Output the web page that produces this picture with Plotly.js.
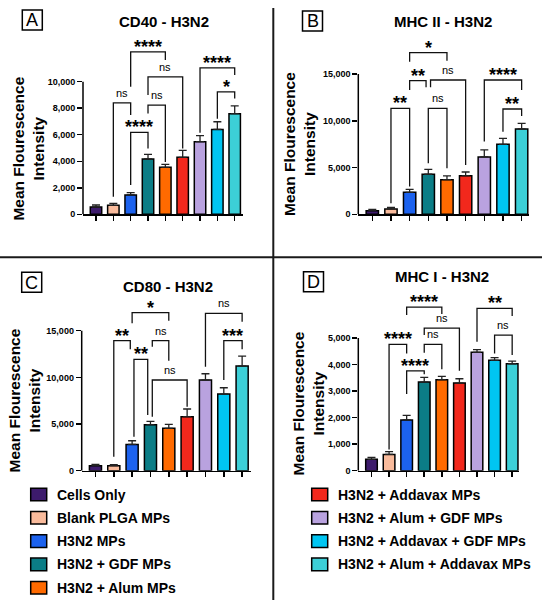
<!DOCTYPE html>
<html><head><meta charset="utf-8">
<script src="https://cdn.plot.ly/plotly-3.0.1.min.js"></script>
<style>html,body{margin:0;padding:0;background:#fff}#chart{width:550px;height:606px}</style>
</head><body><div id="chart"></div>
<script>
// ---------- data ----------
const groups = ['Cells Only','Blank PLGA MPs','H3N2 MPs','H3N2 + GDF MPs','H3N2 + Alum MPs',
  'H3N2 + Addavax MPs','H3N2 + Alum + GDF MPs','H3N2 + Addavax + GDF MPs','H3N2 + Alum + Addavax MPs'];
const groupColors = ['#3d1b6c','#f9bb9c','#1c62ee','#0b7d86','#ff6a00','#f2281c','#b9a2df','#00c5f2','#3ccfd7'];

const cd40Mean = [550, 680, 1460, 4170, 3540, 4300, 5480, 6400, 7590];
const cd40Sem  = [150, 150, 170, 350, 230, 520, 450, 580, 580];
const mhc2Mean = [390, 570, 2350, 4280, 3700, 4130, 6130, 7480, 9120];
const mhc2Sem  = [140, 180, 320, 530, 400, 390, 750, 640, 610];
const cd80Mean = [535, 535, 2820, 4930, 4540, 5790, 9710, 8210, 11210];
const cd80Sem  = [145, 105, 390, 360, 420, 820, 680, 680, 1070];
const mhc1Mean = [427, 615, 1910, 3340, 3430, 3300, 4460, 4160, 4030];
const mhc1Sem  = [75, 100, 175, 175, 125, 165, 100, 100, 100];

const cd40Ticks = [0, 2000, 4000, 6000, 8000, 10000];
const mhc2Ticks = [0, 5000, 10000, 15000];
const cd80Ticks = [0, 5000, 10000, 15000];
const mhc1Ticks = [0, 1000, 2000, 3000, 4000, 5000];

const panelLetters = ['A', 'B', 'C', 'D'];
const panelTitles = ['CD40 - H3N2', 'MHC II - H3N2', 'CD80 - H3N2', 'MHC I - H3N2'];
const yTitle = 'Mean Flourescence<br>Intensity';

// significance brackets: [left group, right group, bracket level, left leg end, right leg end, label]
const cd40Sig = [
  [2, 4, 12250, 9620, 11630, '****'],
  [3, 5, 10370, 8990, 4970, 'ns'],
  [1, 2, 8410, 1330, 7480, 'ns'],
  [3, 4, 8240, 7610, 3950, 'ns'],
  [2, 3, 6180, 2210, 4970, '****'],
  [6, 8, 11050, 6150, 10500, '****'],
  [7, 8, 9240, 7200, 8740, '*']
];
const mhc2Sig = [
  [2, 4, 17280, 16320, 16420, '*'],
  [2, 2.88, 14290, 13290, 13580, '**'],
  [3.12, 5, 14360, 13580, 5270, 'ns'],
  [1, 2, 11330, 1170, 2960, '**'],
  [3, 4, 11330, 5450, 4920, 'ns'],
  [6, 8, 14360, 7770, 13290, '****'],
  [7, 8, 11260, 8830, 10510, '**']
];
const cd80Sig = [
  [2, 4, 16930, 15790, 16070, '*'],
  [1, 1.9, 13930, 1500, 13000, '**'],
  [3.1, 4, 13930, 13290, 11790, 'ns'],
  [2.1, 2.85, 11930, 3640, 5970, '**'],
  [3.1, 5, 9720, 5790, 6860, 'ns'],
  [6, 8, 16860, 11140, 15970, 'ns'],
  [7, 8, 13930, 9720, 13000, '***']
];
const mhc1Sig = [
  [2, 4, 6160, 5870, 5900, '****'],
  [3, 5, 5370, 5110, 3770, 'ns'],
  [1, 2, 4760, 800, 4420, '****'],
  [3, 4, 4760, 4440, 3820, 'ns'],
  [2, 3, 3760, 2890, 3630, '****'],
  [6, 8, 6120, 4860, 5830, '**'],
  [7, 8, 5110, 4420, 4360, 'ns']
];

// ---------- layout geometry ----------
const W = 550, H = 606;
const FONT = 'Liberation Sans, Arial, Helvetica, sans-serif';
const panels = [
  {mean: cd40Mean, sem: cd40Sem, ticks: cd40Ticks, sig: cd40Sig,
   x0: 83, x1: 242.5, xr: [-0.75, 8.45], zero: 214.3, tickPx: 81.7, top: 40,
   title: [164, 22], box: [22.3, 10], ytitle: [28.3, 148.3]},
  {mean: mhc2Mean, sem: mhc2Sem, ticks: mhc2Ticks, sig: mhc2Sig,
   x0: 358.3, x1: 529.1, xr: [-0.75, 8.4], zero: 214.3, tickPx: 74, top: 40,
   title: [443.3, 21.7], box: [302.5, 11], ytitle: [299, 144]},
  {mean: cd80Mean, sem: cd80Sem, ticks: cd80Ticks, sig: cd80Sig,
   x0: 81.7, x1: 251.3, xr: [-0.75, 8.5], zero: 470.7, tickPx: 330.7, top: 298,
   title: [168, 286], box: [21.7, 272.3], ytitle: [24, 400.5]},
  {mean: mhc1Mean, sem: mhc1Sem, ticks: mhc1Ticks, sig: mhc1Sig,
   x0: 358.3, x1: 519.2, xr: [-0.75, 8.4], zero: 470.7, tickPx: 338, top: 298,
   title: [441.7, 276.7], box: [303.5, 271.7], ytitle: [307.5, 404]}
];
const px = v => v / W;
const py = v => 1 - v / H;

const traces = [];
const shapes = [];
const annotations = [];
const layout = {
  width: W, height: H, margin: {l: 0, r: 0, t: 0, b: 0},
  paper_bgcolor: '#fff', plot_bgcolor: 'rgba(0,0,0,0)',
  showlegend: false, font: {family: FONT, color: '#000'}
};

panels.forEach((p, k) => {
  const n = k === 0 ? '' : String(k + 1);
  const xa = 'x' + n, ya = 'y' + n;
  const topTick = p.ticks[p.ticks.length - 1];
  const rmax = topTick * (p.zero - p.top) / (p.zero - p.tickPx);

  traces.push({
    type: 'bar', x: groups, y: p.mean, xaxis: xa, yaxis: ya,
    width: 0.66,
    marker: {color: groupColors, line: {color: '#000', width: 1.5}},
    error_y: {type: 'data', symmetric: false, array: p.sem, arrayminus: p.sem.map(() => 0),
              color: '#222', thickness: 1.3, width: 4},
    hovertemplate: '%{x}: %{y:,}<extra></extra>'
  });

  layout['xaxis' + n] = {
    domain: [px(p.x0), px(p.x1)], anchor: ya, type: 'category', range: p.xr,
    showline: true, linecolor: '#000', linewidth: 1.5,
    ticks: 'outside', ticklen: 5, tickwidth: 1.5, tickcolor: '#000',
    showticklabels: false, showgrid: false, zeroline: false, fixedrange: true
  };
  layout['yaxis' + n] = {
    domain: [py(p.zero), py(p.top)], anchor: xa, range: [0, rmax],
    tickmode: 'array', tickvals: p.ticks, tickformat: ',d',
    ticks: 'outside', ticklen: 5, tickwidth: 1.5, tickcolor: '#000',
    tickfont: {family: FONT, size: 9, color: '#000', weight: 'bold'},
    showline: false, showgrid: false, zeroline: false, fixedrange: true
  };
  // y axis line only up to the top tick
  shapes.push({type: 'line', xref: xa + ' domain', yref: ya, x0: 0, x1: 0, y0: 0, y1: topTick,
               line: {color: '#000', width: 1.5}});

  // significance brackets
  p.sig.forEach(s => {
    const [l, r, lev, yl, yr, lab] = s;
    shapes.push({type: 'path', xref: xa, yref: ya,
      path: `M ${l},${yl} L ${l},${lev} L ${r},${lev} L ${r},${yr}`,
      line: {color: '#111', width: 1.3}});
    const isNs = lab === 'ns';
    annotations.push({xref: xa, yref: ya, x: (l + r) / 2, y: lev, text: lab, showarrow: false,
      xanchor: 'center', yanchor: 'middle', yshift: isNs ? 10 : 5,
      font: {family: FONT, size: isNs ? 11 : 18, color: '#000', weight: isNs ? 'normal' : 'bold'}});
  });

  // panel title
  annotations.push({xref: 'paper', yref: 'paper', x: px(p.title[0]), y: py(p.title[1]),
    text: '<b>' + panelTitles[k] + '</b>', showarrow: false, xanchor: 'center', yanchor: 'middle',
    font: {family: FONT, size: 15, color: '#000'}});
  // panel letter box
  shapes.push({type: 'rect', xref: 'paper', yref: 'paper',
    x0: px(p.box[0]), x1: px(p.box[0] + 20), y0: py(p.box[1] + 20), y1: py(p.box[1]),
    line: {color: '#000', width: 1.5}, fillcolor: '#fff'});
  annotations.push({xref: 'paper', yref: 'paper', x: px(p.box[0] + 10), y: py(p.box[1] + 10.5),
    text: panelLetters[k], showarrow: false, xanchor: 'center', yanchor: 'middle',
    font: {family: FONT, size: 18, color: '#000'}});
  // y axis title
  annotations.push({xref: 'paper', yref: 'paper', x: px(p.ytitle[0]), y: py(p.ytitle[1]),
    text: '<b>' + yTitle + '</b>', showarrow: false, textangle: -90, align: 'center',
    xanchor: 'center', yanchor: 'middle', font: {family: FONT, size: 15.5, color: '#000'}});
});

// dividers
shapes.push({type: 'line', xref: 'paper', yref: 'paper', x0: px(273.3), x1: px(273.3), y0: py(8), y1: py(600),
             line: {color: '#1a1a1a', width: 2}});
shapes.push({type: 'line', xref: 'paper', yref: 'paper', x0: px(0), x1: px(542), y0: py(257.3), y1: py(257.3),
             line: {color: '#1a1a1a', width: 2}});

// legend (two columns)
groups.forEach((g, i) => {
  const col = i < 5 ? 0 : 1;
  const row = col === 0 ? i : i - 5;
  const sx = col === 0 ? 30.7 : 311.7;
  const tx = col === 0 ? 55 : 336;
  const cy = 494.5 + 23.3 * row;
  shapes.push({type: 'rect', xref: 'paper', yref: 'paper',
    x0: px(sx), x1: px(sx + 16), y0: py(cy + 6.3), y1: py(cy - 6.3),
    fillcolor: groupColors[i], line: {color: '#000', width: 1.5}});
  annotations.push({xref: 'paper', yref: 'paper', x: px(tx), y: py(cy), text: '<b>' + g + '</b>',
    showarrow: false, xanchor: 'left', yanchor: 'middle', font: {family: FONT, size: 14, color: '#000'}});
});

layout.shapes = shapes;
layout.annotations = annotations;
Plotly.newPlot('chart', traces, layout, {displayModeBar: false, staticPlot: true});
</script>
</body></html>
